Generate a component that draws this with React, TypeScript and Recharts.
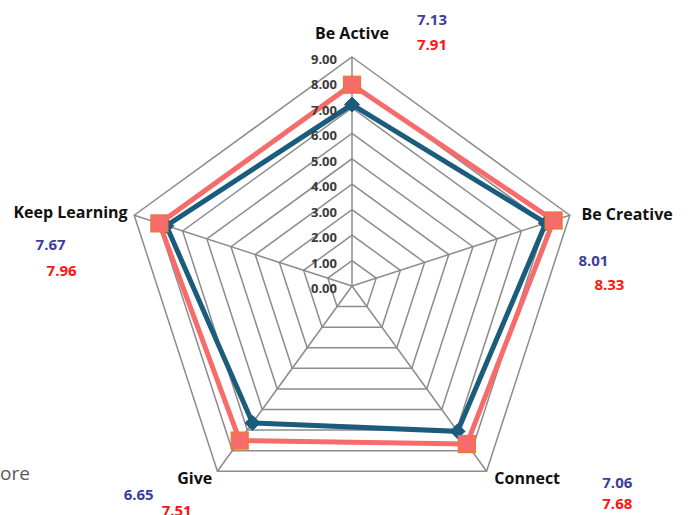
import { RadarChart, PolarGrid, PolarAngleAxis, PolarRadiusAxis, Radar } from 'recharts'

const categories = ['Be Active', 'Be Creative', 'Connect', 'Give', 'Keep Learning']
const redScores = [7.91, 8.33, 7.68, 7.51, 7.96]
const blueScores = [7.13, 8.01, 7.06, 6.65, 7.67]
const radialTicks = [0, 1, 2, 3, 4, 5, 6, 7, 8, 9]

const RED = '#f76b6b'
const BLUE = '#1b5c7c'

// where each axis name and its two score labels sit, relative to the axis tick point
const labelPlacement: Record<string, { name: [number, number, 'start' | 'middle' | 'end']; blue: [number, number]; red: [number, number] }> = {
  'Be Active': { name: [0, -16, 'middle'], blue: [80, -30], red: [80, -5] },
  'Be Creative': { name: [4, 1, 'start'], blue: [16, 47], red: [32, 71] },
  Connect: { name: [3, 0, 'start'], blue: [126, 4], red: [126, 25] },
  Give: { name: [-18, 0, 'middle'], blue: [-74, 16], red: [-36, 32] },
  'Keep Learning': { name: [1, -1, 'end'], blue: [-76, 31], red: [-65, 57] },
}

const data = categories.map((c, i) => ({ axis: c, red: redScores[i], blue: blueScores[i] }))

const AngleTick = (props: any) => {
  const { x, y, payload } = props
  const name = payload.value as string
  const i = categories.indexOf(name)
  const p = labelPlacement[name]
  if (!p) return null
  return (
    <g>
      <text x={x + p.name[0]} y={y + p.name[1]} textAnchor={p.name[2]} dominantBaseline="central" fontSize={16} fontWeight={700} fill="#111">
        {name}
      </text>
      <text x={x + p.blue[0]} y={y + p.blue[1]} textAnchor="middle" dominantBaseline="central" fontSize={15} fontWeight={700} fill="#3d3d9e">
        {blueScores[i].toFixed(2)}
      </text>
      <text x={x + p.red[0]} y={y + p.red[1]} textAnchor="middle" dominantBaseline="central" fontSize={15} fontWeight={700} fill="#ff1414">
        {redScores[i].toFixed(2)}
      </text>
    </g>
  )
}

const RadiusTick = (props: any) => {
  const { x, y, payload } = props
  return (
    <text x={x - 15} y={y + 2} textAnchor="end" dominantBaseline="central" fontSize={13} fontWeight={700} fill="#3a3a3a">
      {Number(payload.value).toFixed(2)}
    </text>
  )
}

const SquareDot = (props: any) => {
  const { cx, cy } = props
  return <rect key={`sq-${cx}-${cy}`} x={cx - 8.5} y={cy - 8.5} width={17} height={17} fill={RED} stroke="#e8792e" strokeWidth={1.2} />
}

const DiamondDot = (props: any) => {
  const { cx, cy } = props
  const s = 7.5
  return (
    <polygon
      key={`dm-${cx}-${cy}`}
      points={`${cx},${cy - s} ${cx + s},${cy} ${cx},${cy + s} ${cx - s},${cy}`}
      fill={BLUE}
      stroke={BLUE}
    />
  )
}

export default function App() {
  return (
    <div style={{ position: 'absolute', left: 0, top: 0, width: 688, height: 515, background: '#fff', fontFamily: '"Open Sans", sans-serif', overflow: 'hidden' }}>
      <RadarChart width={688} height={515} data={data} cx={352} cy={286} outerRadius={229} margin={{ top: 0, right: 0, bottom: 0, left: 0 }}>
        <PolarGrid gridType="polygon" stroke="#8c8c8c" strokeWidth={1.5} />
        <PolarAngleAxis dataKey="axis" tick={AngleTick} tickLine={false} axisLine={false} />
        <PolarRadiusAxis angle={90} domain={[0, 9]} ticks={radialTicks as any} tickCount={10} axisLine={false} tickLine={false} tick={RadiusTick} />
        <Radar dataKey="blue" stroke={BLUE} strokeWidth={5} fill="none" fillOpacity={0} dot={DiamondDot} isAnimationActive={false} />
        <Radar dataKey="red" stroke={RED} strokeWidth={5} fill="none" fillOpacity={0} dot={SquareDot} isAnimationActive={false} />
      </RadarChart>
      <div style={{ position: 'absolute', left: 0, top: 462, fontSize: 19, color: '#595959', lineHeight: '22px' }}>ore</div>
    </div>
  )
}
